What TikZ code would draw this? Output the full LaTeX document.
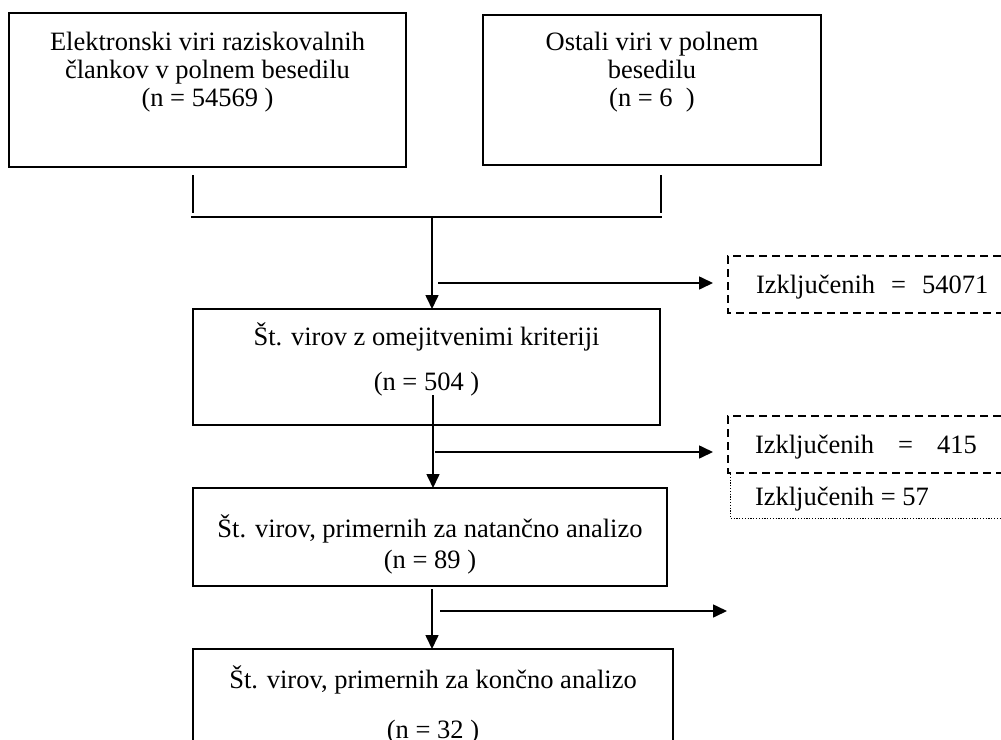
\documentclass[tikz,border=0pt]{standalone}
\usepackage{fontspec}
\setmainfont{Liberation Serif}
\usetikzlibrary{arrows.meta}
\begin{document}
\begin{tikzpicture}[x=1pt,y=-1pt,
  every node/.style={inner sep=0pt, outer sep=0pt},
  box/.style={draw, line width=1.6pt},
  txt/.style={font=\fontsize{26.5}{28.5}\selectfont, anchor=base},
  ltxt/.style={font=\fontsize{26.5}{28.5}\selectfont, anchor=base west},
  conn/.style={line width=1.6pt},
  thin conn/.style={line width=1.1pt},
  arr/.style={conn, -{Triangle[length=14pt,width=13pt]}},
  dashbox/.style={line width=1.3pt, dash pattern=on 8pt off 5pt},
  dotbox/.style={line width=0.8pt, dash pattern=on 1.2pt off 1.6pt}
]
\useasboundingbox (0,0) rectangle (1001,739);

% boxes
\node[box, minimum width=397pt, minimum height=154pt] (src1) at (207.5,90) {};
\node[box, minimum width=338pt, minimum height=150pt] (src2) at (652,90) {};
\node[box, minimum width=467pt, minimum height=116pt] (s1) at (426.5,367) {};
\node[box, minimum width=474pt, minimum height=98pt] (s2) at (430,537) {};
\node[box, minimum width=480pt, minimum height=121pt] (s3) at (433,709.5) {};

% texts in boxes
\node[txt] (t1a) at (207.5,50) {Elektronski viri raziskovalnih};
\node[txt] (t1b) at (207.5,78) {člankov v polnem besedilu};
\node[txt] (t1c) at (207.5,106) {(n = 54569 )};
\node[txt] (t2a) at (652,50) {Ostali viri v polnem};
\node[txt] (t2b) at (652,78) {besedilu};
\node[txt] (t2c) at (652,106) {(n = 6\ \ )};
\node[txt] (t3a) at (426.5,345) {Št. virov z omejitvenimi kriteriji};
\node[txt] (t3b) at (426.5,390) {(n = 504 )};
\node[txt] (t4a) at (430,537) {Št. virov, primernih za natančno analizo};
\node[txt] (t4b) at (430,568) {(n = 89 )};
\node[txt] (t5a) at (433,688) {Št. virov, primernih za končno analizo};
\node[txt] (t5b) at (433,738) {(n = 32 )};

% exclusion texts
\node[ltxt] (x1) at (756,293) {Izključenih\hspace{16pt}=\hspace{16pt}54071};
\node[ltxt] (x2) at (755,453) {Izključenih\hspace{24pt}=\hspace{24pt}415};
\node[ltxt] (x3) at (755,505) {Izključenih = 57};

% exclusion frames
\draw[dashbox] (1001,256) -- (728,256) -- (728,313) -- (1001,313);
\draw[dashbox] (1001,416) -- (728,416) -- (728,473) -- (1001,473);
\draw[dotbox] (730,474) -- (730,518) -- (1001,518);

% bracket joining the two sources
\coordinate (bl1) at (193,175); \coordinate (bl2) at (193,213);
\coordinate (br1) at (661,175); \coordinate (br2) at (661,213);
\coordinate (hl) at (191,217); \coordinate (hr) at (662,217);
\draw[conn] (bl1) -- (bl2);
\draw[conn] (br1) -- (br2);
\draw[conn] (hl) -- (hr);

% flow 1
\coordinate (j1) at (432,217);
\draw[arr] (j1) -- (j1 |- s1.north);
\coordinate (e1s) at (438,283); \coordinate (e1e) at (713,283);
\draw[arr] (e1s) -- (e1e);

% flow 2
\coordinate (j2) at (433,395); \coordinate (j2b) at (433,429);
\draw[thin conn] (j2) -- (j2b);
\draw[arr] (j2b) -- (j2b |- s2.north);
\coordinate (e2s) at (435,452); \coordinate (e2e) at (713,452);
\draw[arr] (e2s) -- (e2e);

% flow 3
\coordinate (j3) at (432,589);
\draw[arr] (j3) -- (j3 |- s3.north);
\coordinate (e3s) at (440,611); \coordinate (e3e) at (727,611);
\draw[arr] (e3s) -- (e3e);
\end{tikzpicture}
\end{document}
